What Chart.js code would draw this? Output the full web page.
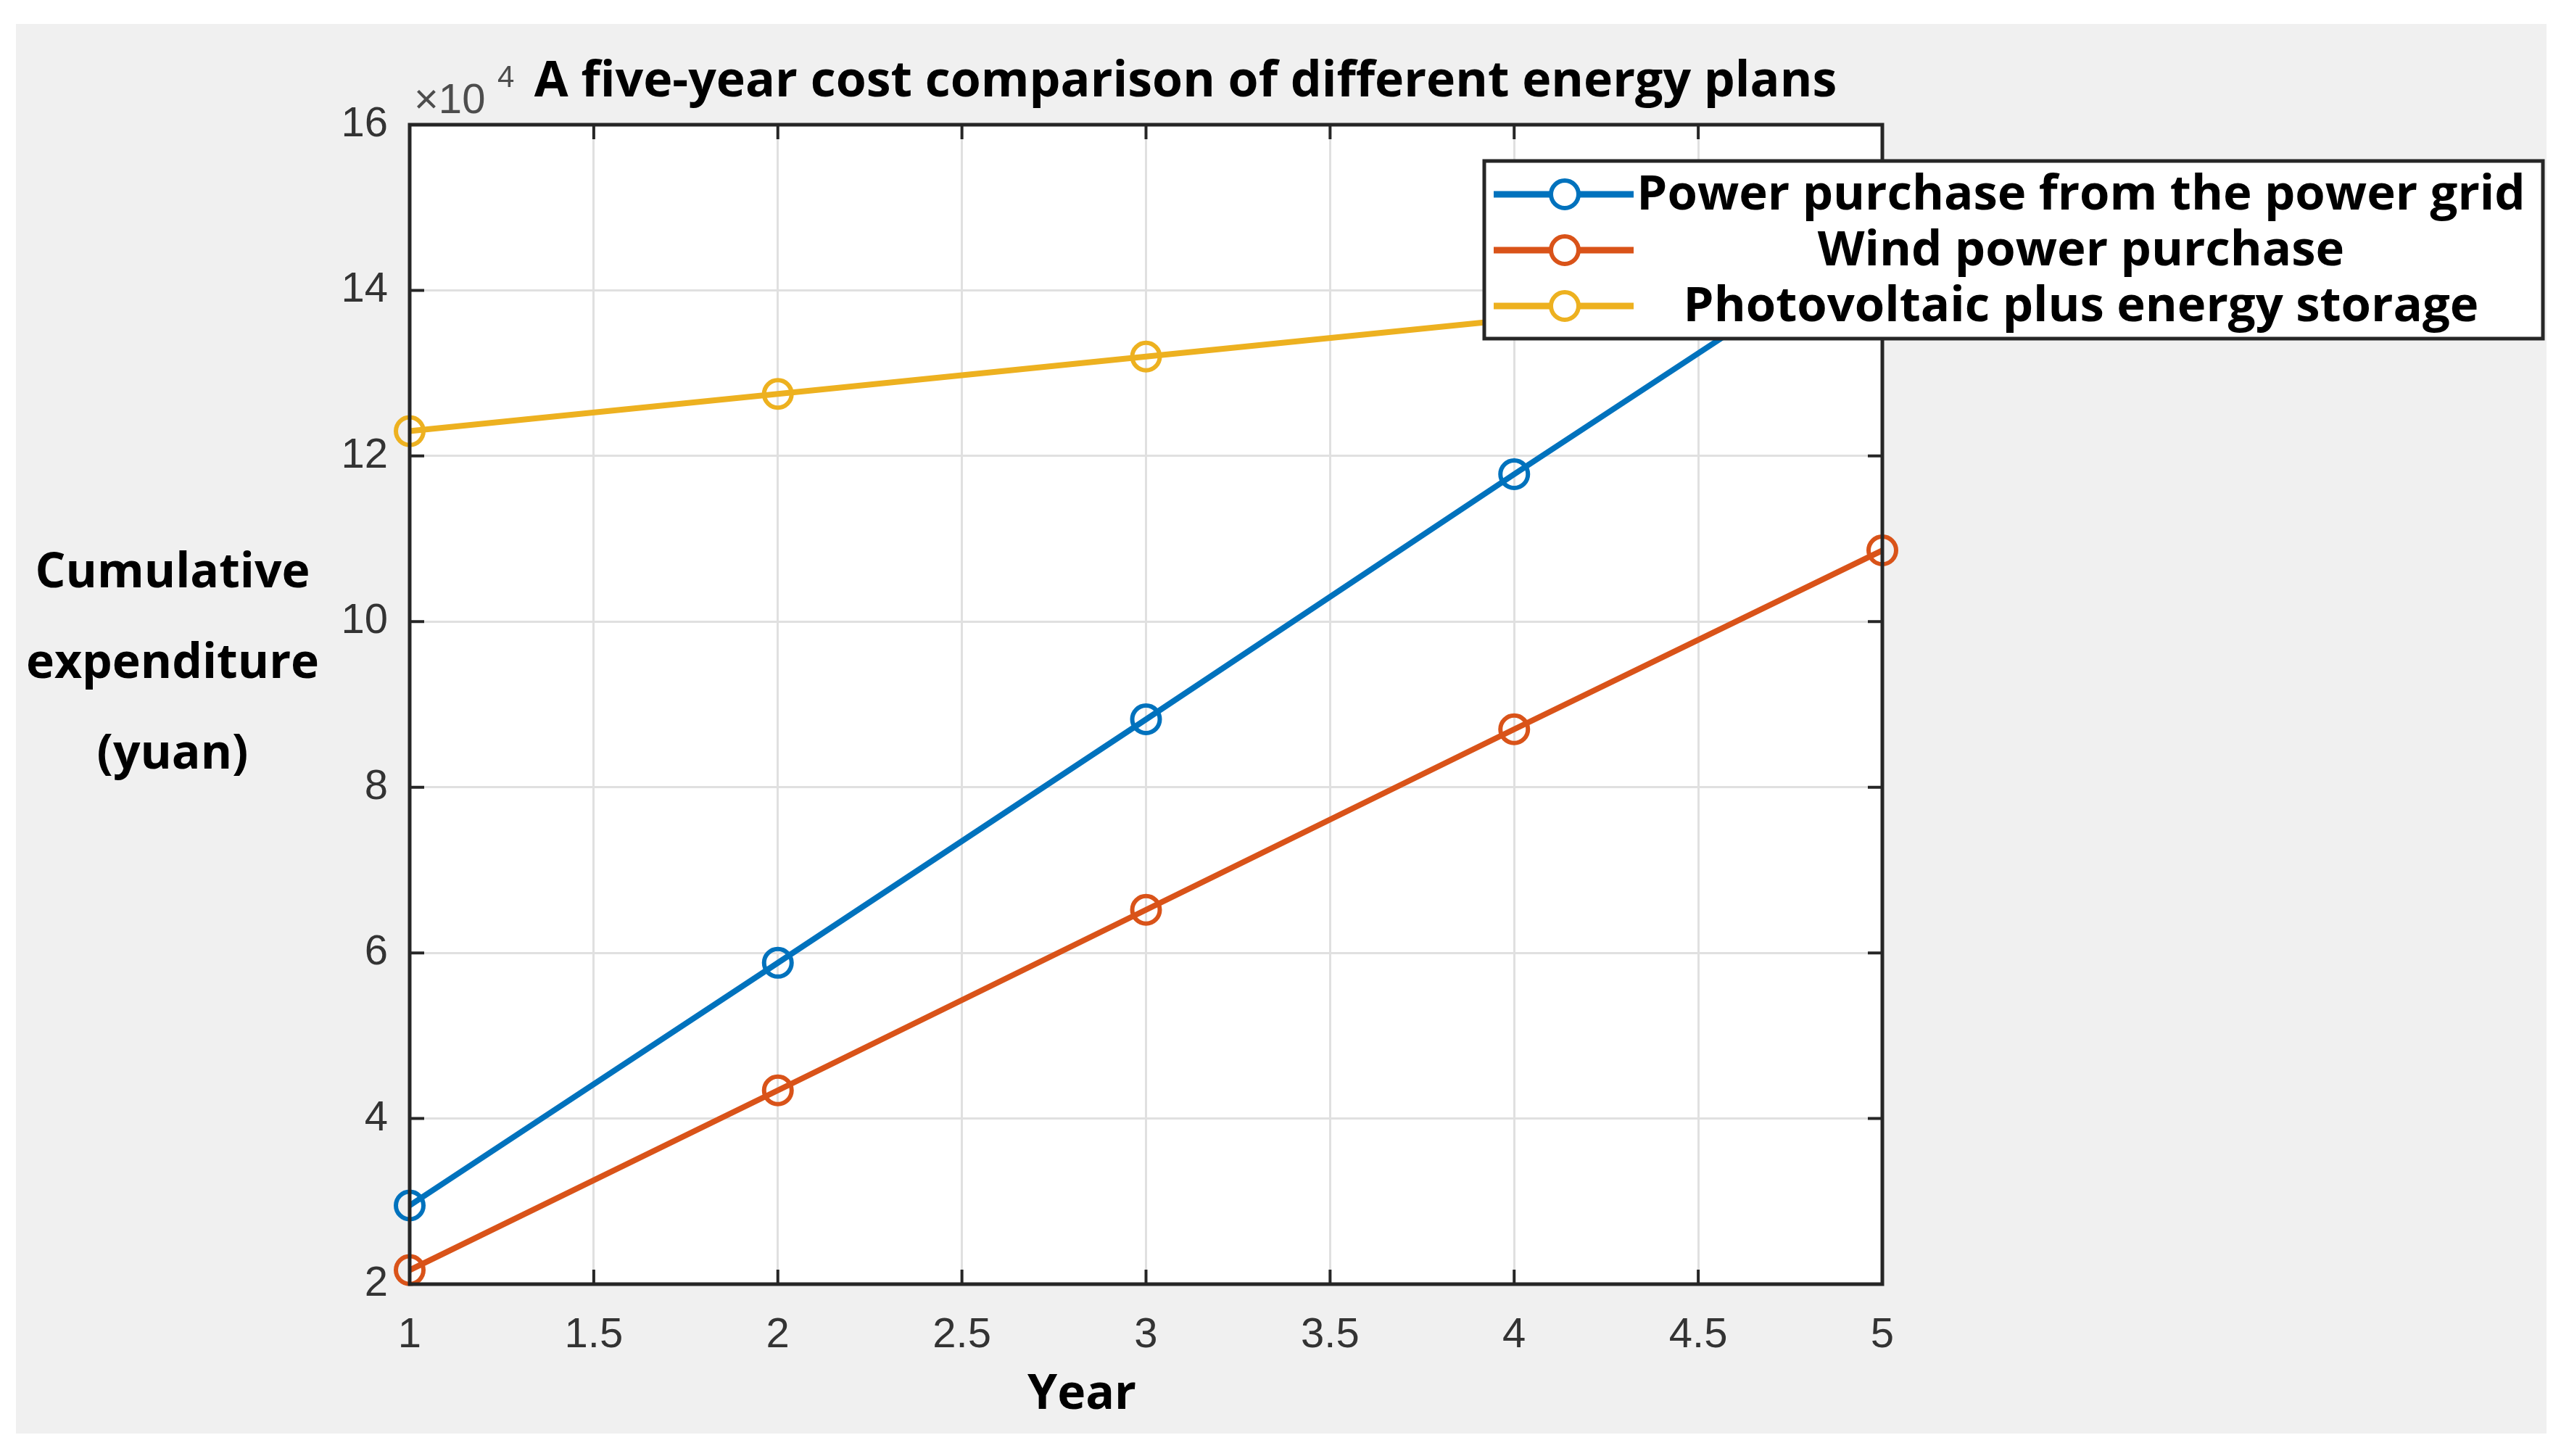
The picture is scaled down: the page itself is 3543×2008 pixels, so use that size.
<!DOCTYPE html>
<html>
<head>
<meta charset="utf-8">
<script src="https://cdn.jsdelivr.net/npm/chart.js@4"></script>
<style>
  html, body { margin: 0; padding: 0; background: #fff; }
  #graf { display: block; }
</style>
</head>
<body>
<canvas id="graf" width="3543" height="2008"></canvas>
<script>
const years = [1, 2, 3, 4, 5];
const gridCost = [29500, 58800, 88200, 117800, 147000];
const windCost = [21700, 43400, 65200, 87000, 108600];
const pvCost = [123000, 127500, 132000, 136500, 141000];
const seriesNames = ["Power purchase from the power grid", "Wind power purchase", "Photovoltaic plus energy storage"];
const seriesColors = ["#0072bd", "#d95319", "#edb120"];
const xTicks = [1, 1.5, 2, 2.5, 3, 3.5, 4, 4.5, 5];
const yTicks = [20000, 40000, 60000, 80000, 100000, 120000, 140000, 160000];

const titleText = "A five-year cost comparison of different energy plans";
const yTitle = ["Cumulative", "expenditure", "(yuan)"];
const xTitle = "Year";

const toPoints = vals => years.map((yr, i) => ({ x: yr, y: vals[i] }));

// fondo gris, area blanca, caja, ticks internos, textos y leyenda
const matlabLook = {
  id: "matlabLook",
  beforeDraw(chart) {
    const ctx = chart.ctx, a = chart.chartArea;
    ctx.save();
    ctx.fillStyle = "#ffffff";
    ctx.fillRect(0, 0, chart.width, chart.height);
    ctx.fillStyle = "#f0f0f0";
    ctx.fillRect(22, 33, 3490, 1944);
    ctx.fillStyle = "#ffffff";
    ctx.fillRect(a.left, a.top, a.right - a.left, a.bottom - a.top);
    ctx.restore();
  },
  afterDatasetsDraw(chart) {
    const ctx = chart.ctx, a = chart.chartArea;
    const xs = chart.scales.x, ys = chart.scales.y;
    ctx.save();
    // ticks hacia dentro
    ctx.strokeStyle = "#262626";
    ctx.lineWidth = 4;
    ctx.beginPath();
    xTicks.forEach(v => {
      const px = xs.getPixelForValue(v);
      ctx.moveTo(px, a.bottom); ctx.lineTo(px, a.bottom - 20);
      ctx.moveTo(px, a.top); ctx.lineTo(px, a.top + 20);
    });
    yTicks.forEach(v => {
      const py = ys.getPixelForValue(v);
      ctx.moveTo(a.left, py); ctx.lineTo(a.left + 20, py);
      ctx.moveTo(a.right, py); ctx.lineTo(a.right - 20, py);
    });
    ctx.stroke();
    // caja
    ctx.lineWidth = 5;
    ctx.strokeRect(a.left, a.top, a.right - a.left, a.bottom - a.top);
    ctx.restore();
  },
  afterDraw(chart) {
    const ctx = chart.ctx, a = chart.chartArea;
    ctx.save();
    // x10^4
    ctx.fillStyle = "#4d4d4d";
    ctx.textAlign = "left";
    ctx.textBaseline = "alphabetic";
    ctx.font = "58px 'Liberation Sans'";
    ctx.fillText("\u00d710", a.left + 6, 156);
    ctx.font = "42px 'Liberation Sans'";
    ctx.fillText("4", a.left + 121, 120);

    // titulo
    ctx.fillStyle = "#000";
    ctx.textAlign = "center";
    ctx.font = "bold 68px 'Open Sans'";
    ctx.fillText(titleText, 1635, 133);

    // titulo eje y (horizontal, 3 lineas)
    ctx.font = "bold 66px 'Open Sans'";
    yTitle.forEach((t, i) => ctx.fillText(t, 238, 810 + i * 125));

    // titulo eje x
    ctx.font = "bold 66px 'Open Sans'";
    ctx.fillText(xTitle, 1492, 1943);

    // leyenda
    const lx = 2047, ly = 222, lw = 1460, lh = 245;
    ctx.fillStyle = "#fff";
    ctx.fillRect(lx, ly, lw, lh);
    ctx.strokeStyle = "#262626";
    ctx.lineWidth = 5;
    ctx.strokeRect(lx, ly, lw, lh);
    const rows = [268, 345, 422];
    chart.data.datasets.forEach((ds, i) => {
      const y = rows[i];
      ctx.strokeStyle = ds.borderColor;
      ctx.lineWidth = 9;
      ctx.beginPath();
      ctx.moveTo(2060, y); ctx.lineTo(2253, y);
      ctx.stroke();
      ctx.lineWidth = 6;
      ctx.beginPath();
      ctx.arc(2158, y, 19, 0, Math.PI * 2);
      ctx.fillStyle = "#fff";
      ctx.fill();
      ctx.stroke();
      ctx.fillStyle = "#000";
      ctx.textAlign = "center";
      ctx.textBaseline = "middle";
      ctx.font = "bold 67px 'Open Sans'";
      ctx.fillText(ds.label, 2870, y + 2);
    });
    ctx.restore();
  }
};

document.addEventListener("DOMContentLoaded", () => {
  const costs = [gridCost, windCost, pvCost];
  new Chart(document.getElementById("graf"), {
    type: "line",
    data: {
      datasets: costs.map((vals, i) => ({
        label: seriesNames[i],
        data: toPoints(vals),
        borderColor: seriesColors[i],
        backgroundColor: "rgba(255,255,255,0)",
        borderWidth: 8,
        pointRadius: 19,
        pointBorderWidth: 6,
        pointBackgroundColor: "rgba(255,255,255,0)",
        pointBorderColor: seriesColors[i],
        tension: 0,
        clip: false
      }))
    },
    options: {
      responsive: false,
      devicePixelRatio: 1,
      animation: false,
      events: [],
      layout: { padding: { left: 0, top: 172, right: 947, bottom: 0 } },
      plugins: { legend: { display: false }, title: { display: false }, tooltip: { enabled: false } },
      scales: {
        x: {
          type: "linear",
          min: 1, max: 5,
          afterBuildTicks: s => { s.ticks = xTicks.map(v => ({ value: v })); },
          afterFit: s => { s.height = 237; },
          ticks: { color: "#333", font: { family: "'Liberation Sans'", size: 58 }, padding: 36, maxRotation: 0, callback: v => String(v) },
          grid: { color: "#e0e0e0", lineWidth: 3, drawTicks: false },
          border: { display: false }
        },
        y: {
          min: 20000, max: 160000,
          afterBuildTicks: s => { s.ticks = yTicks.map(v => ({ value: v })); },
          afterFit: s => { s.width = 565; },
          ticks: { color: "#333", font: { family: "'Liberation Sans'", size: 58 }, padding: 30, callback: v => String(v / 10000) },
          grid: { color: "#e0e0e0", lineWidth: 3, drawTicks: false },
          border: { display: false }
        }
      }
    },
    plugins: [matlabLook]
  });
});
</script>
</body>
</html>
